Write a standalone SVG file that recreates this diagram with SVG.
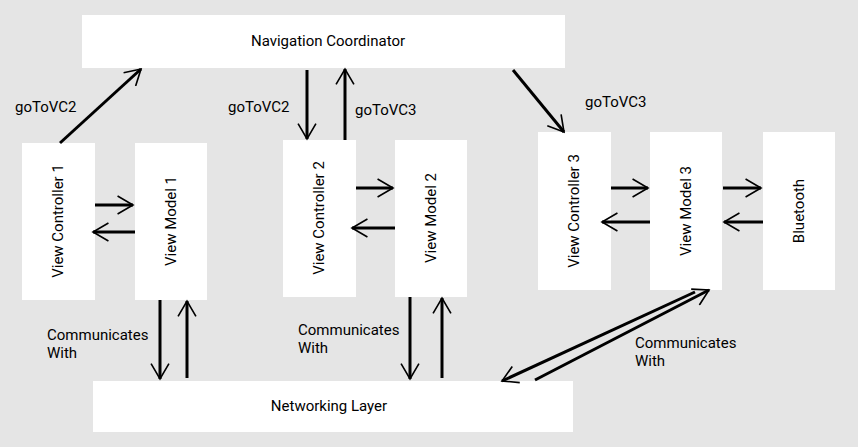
<svg xmlns="http://www.w3.org/2000/svg" width="858" height="447" viewBox="0 0 858 447">
<style>
.b{fill:#fff}
.t{font-family:Roboto,"Liberation Sans",sans-serif;font-size:15px;fill:#000}
.c line{stroke:#000;stroke-width:3;fill:none;marker-end:url(#a)}
</style>
<defs>
<marker id="a" viewBox="0 0 12 12" refX="10.5" refY="6" markerWidth="6.5" markerHeight="6.5" orient="auto" markerUnits="strokeWidth">
<path d="M1,0.5 L10.5,6 L1,11.5" fill="none" stroke="#000" stroke-width="1.0"/>
</marker>
</defs>
<rect width="858" height="447" fill="#e5e5e5"/>
<g id="nav"><rect class="b" x="82" y="15" width="483" height="53"/><text class="t" x="328" y="46" text-anchor="middle">Navigation Coordinator</text></g>
<g id="vc1"><rect class="b" x="22" y="143" width="73" height="157"/><text class="t" transform="translate(63,221) rotate(-90)" text-anchor="middle">View Controller 1</text></g>
<g id="vm1"><rect class="b" x="135" y="143" width="72" height="157"/><text class="t" transform="translate(176,221) rotate(-90)" text-anchor="middle">View Model 1</text></g>
<g id="vc2"><rect class="b" x="283" y="140" width="73" height="157"/><text class="t" transform="translate(324,218) rotate(-90)" text-anchor="middle">View Controller 2</text></g>
<g id="vm2"><rect class="b" x="395" y="140" width="72" height="157"/><text class="t" transform="translate(436,218) rotate(-90)" text-anchor="middle">View Model 2</text></g>
<g id="vc3"><rect class="b" x="538" y="132" width="73" height="158"/><text class="t" transform="translate(579,211) rotate(-90)" text-anchor="middle">View Controller 3</text></g>
<g id="vm3"><rect class="b" x="650" y="132" width="72" height="158"/><text class="t" transform="translate(691,211) rotate(-90)" text-anchor="middle">View Model 3</text></g>
<g id="bt"><rect class="b" x="763" y="132" width="72" height="158"/><text class="t" transform="translate(804,211) rotate(-90)" text-anchor="middle">Bluetooth</text></g>
<g id="net"><rect class="b" x="93" y="381" width="480" height="51"/><text class="t" x="329" y="411" text-anchor="middle">Networking Layer</text></g>
<g class="c">
<line x1="60" y1="143" x2="141" y2="69"/>
<line x1="307" y1="70" x2="307" y2="139"/>
<line x1="345" y1="140" x2="345" y2="69"/>
<line x1="513" y1="70" x2="564" y2="132"/>
<line x1="95" y1="205" x2="133" y2="205"/>
<line x1="135" y1="232" x2="93" y2="232"/>
<line x1="356" y1="188" x2="393" y2="188"/>
<line x1="395" y1="228" x2="352" y2="228"/>
<line x1="611" y1="188" x2="648" y2="188"/>
<line x1="650" y1="222" x2="602" y2="222"/>
<line x1="723" y1="188" x2="761" y2="188"/>
<line x1="763" y1="222" x2="724" y2="222"/>
<line x1="160" y1="300" x2="160" y2="379"/>
<line x1="187" y1="378" x2="187" y2="301"/>
<line x1="410" y1="297" x2="410" y2="379"/>
<line x1="442" y1="378" x2="442" y2="298"/>
<line x1="695" y1="292" x2="502" y2="381"/>
<line x1="535" y1="380" x2="709" y2="290"/>
</g>
<g id="labels">
<text class="t" x="15" y="112">goToVC2</text>
<text class="t" x="228" y="112">goToVC2</text>
<text class="t" x="355" y="115">goToVC3</text>
<text class="t" x="585" y="107">goToVC3</text>
<text class="t" x="47" y="340">Communicates</text><text class="t" x="47" y="358">With</text>
<text class="t" x="298" y="335">Communicates</text><text class="t" x="298" y="353">With</text>
<text class="t" x="635" y="348">Communicates</text><text class="t" x="635" y="366">With</text>
</g>
</svg>
